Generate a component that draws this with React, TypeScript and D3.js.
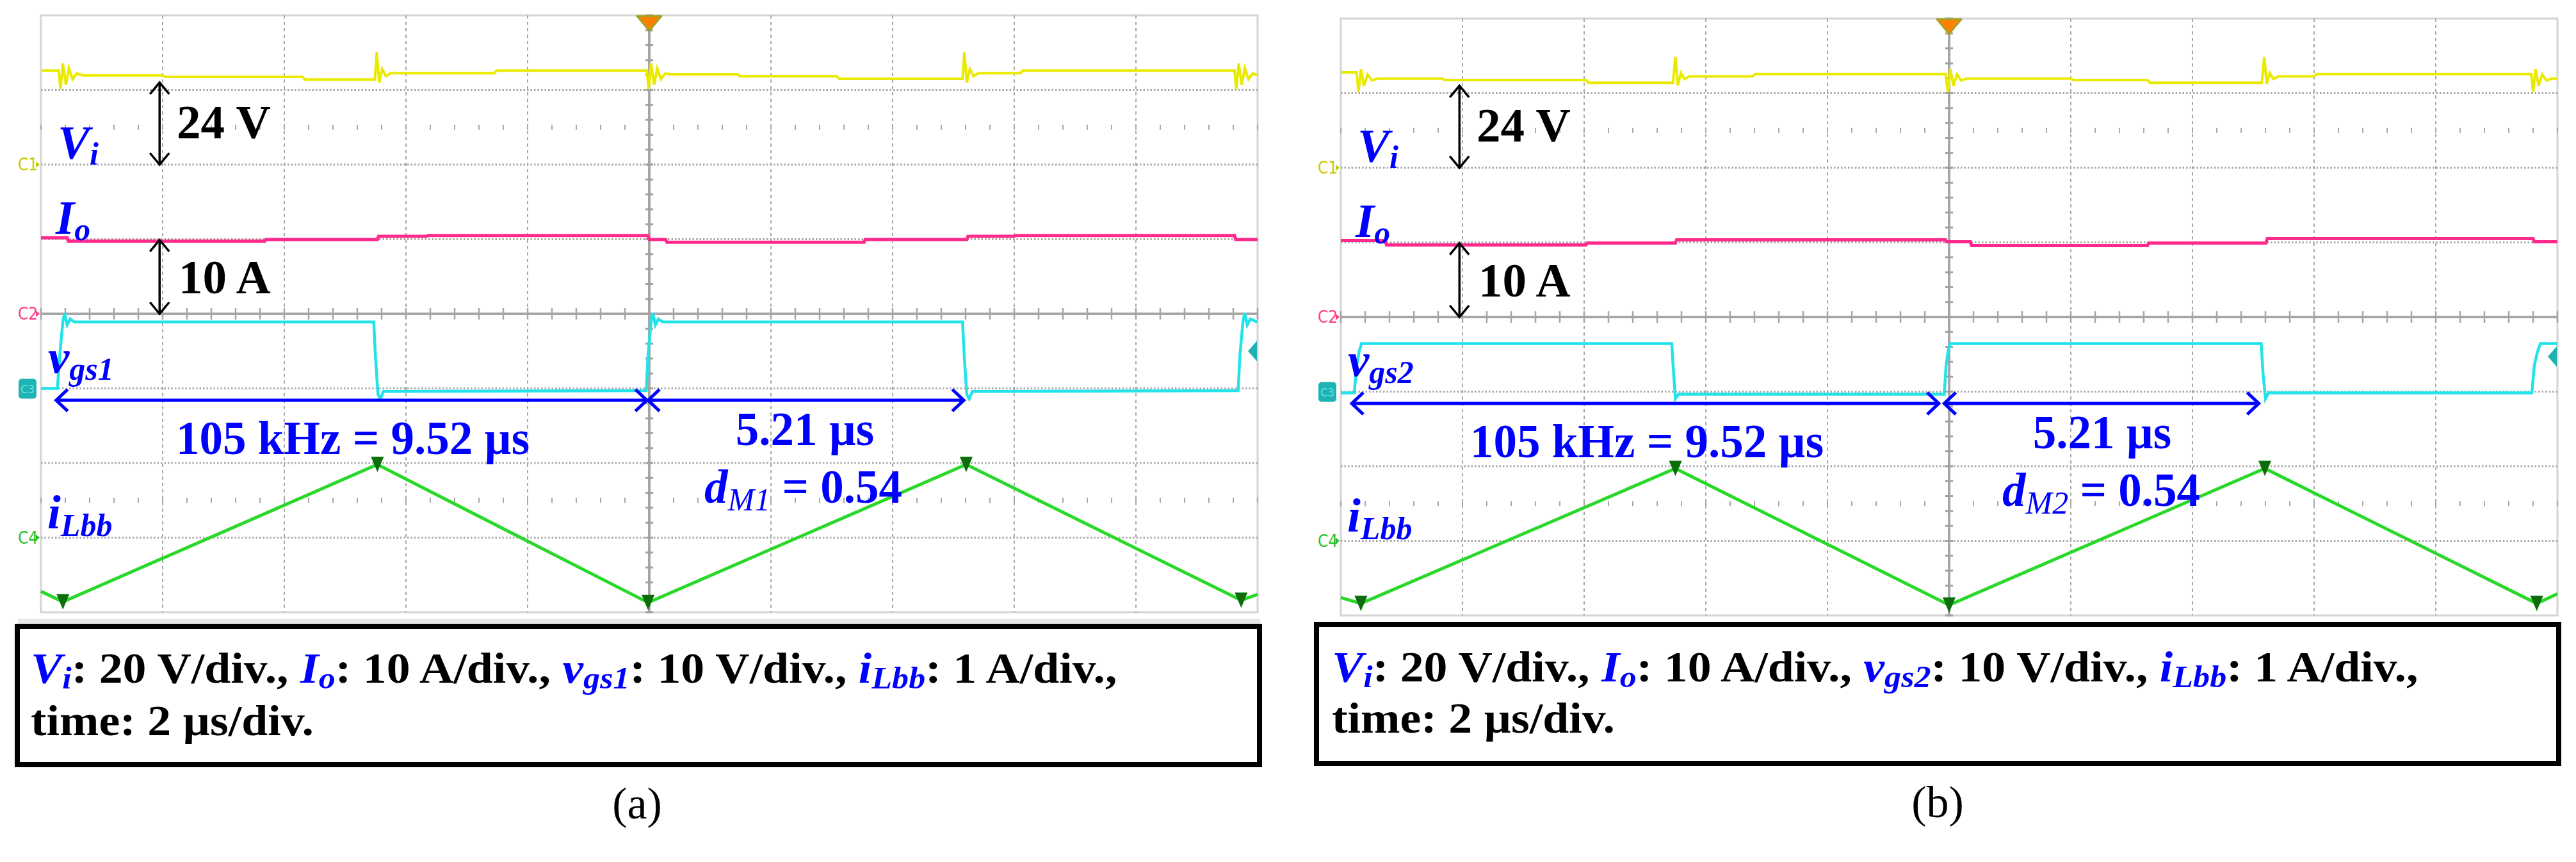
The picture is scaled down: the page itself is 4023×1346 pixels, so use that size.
import React from "react";
import * as d3 from "d3";

type Pt = [number, number];

const SERIF = "Liberation Serif, Tinos, serif";
const BLUE = "#0000ff";
const DIV_W = 190;
const DIV_H = 116.5;

// channel ground (divisions from centre) and units per division
const groundDiv = { vi: 2, io: 0, vgs: -1, il: -3 };
const perDiv = { vi: 20, io: 10, vgs: 10, il: 1 };

// ---- (a) traces: [time µs from trigger, value]
const viA: Pt[] = [
  [-10, 25.2], [-9.71, 25.2], [-9.68, 20.2], [-9.64, 27.1], [-9.59, 21.4], [-9.54, 25.8], [-9.48, 22.9],
  [-9.41, 24.4], [-9.3, 23.9], [-8.0, 23.9], [-7.96, 23.5], [-5.7, 23.5], [-5.66, 22.8], [-4.51, 22.8],
  [-4.48, 30.1], [-4.44, 22.0], [-4.39, 25.6], [-4.33, 23.7], [-4.25, 24.5], [-2.55, 24.5], [-2.51, 25.2],
  [-0.04, 25.2], [-0.01, 20.2], [0.03, 27.1], [0.08, 21.4], [0.13, 25.8], [0.19, 22.9], [0.26, 24.4],
  [0.35, 24.2], [1.45, 24.2], [1.49, 23.7], [3.08, 23.7], [3.12, 23.0], [5.15, 23.0], [5.18, 30.1],
  [5.22, 22.0], [5.27, 25.6], [5.33, 23.7], [5.41, 24.5], [6.1, 24.5], [6.14, 25.2], [9.62, 25.2],
  [9.65, 20.2], [9.69, 27.1], [9.74, 21.4], [9.79, 25.8], [9.85, 22.9], [9.92, 24.4], [10, 24.0],
];
const ioA: Pt[] = [
  [-10, 10.2], [-9.57, 10.2], [-9.55, 9.74], [-6.32, 9.74], [-6.3, 9.96], [-4.47, 9.96], [-4.45, 10.39],
  [-3.66, 10.39], [-3.64, 10.5], [-0.02, 10.5], [0, 9.96], [0.27, 9.96], [0.29, 9.6], [3.53, 9.6],
  [3.55, 9.96], [5.22, 9.96], [5.24, 10.39], [6.0, 10.39], [6.02, 10.5], [9.62, 10.5], [9.64, 9.96], [10, 9.96],
];
const vgs1: Pt[] = [
  [-10, 0], [-9.73, 0], [-9.69, 4.5], [-9.64, 9.0], [-9.61, 10.1], [-9.57, 8.5], [-9.52, 9.3], [-9.45, 8.9],
  [-4.53, 8.9], [-4.5, 4.0], [-4.46, -0.8], [-4.42, -1.4], [-4.37, -0.4], [-0.05, -0.3], [-0.02, 4.5],
  [0.03, 9.0], [0.06, 10.1], [0.1, 8.5], [0.15, 9.3], [0.22, 8.9], [5.15, 8.9], [5.18, 4.0], [5.22, -0.8],
  [5.26, -1.4], [5.31, -0.4], [9.68, -0.3], [9.71, 4.5], [9.76, 9.0], [9.79, 10.1], [9.83, 8.5],
  [9.88, 9.3], [10, 8.9],
];
const ilA: Pt[] = [[-10, -0.72], [-9.64, -0.86], [-4.47, 0.98], [-0.02, -0.87], [5.21, 0.98], [9.73, -0.84], [10, -0.76]];

// ---- (b) traces
const viB: Pt[] = [
  [-10, 25.6], [-9.74, 25.6], [-9.71, 20.3], [-9.67, 26.4], [-9.62, 22.0], [-9.56, 25.0], [-9.49, 23.4],
  [-9.4, 23.9], [-8.33, 23.9], [-8.29, 23.5], [-5.97, 23.5], [-5.93, 22.8], [-4.54, 22.8], [-4.5, 29.7],
  [-4.46, 22.1], [-4.41, 25.4], [-4.35, 23.8], [-4.27, 24.5], [-3.23, 24.5], [-3.19, 25.1], [-0.06, 25.1],
  [-0.02, 20.3], [0.02, 26.4], [0.07, 22.0], [0.13, 25.0], [0.2, 23.4], [0.29, 23.9], [2.0, 23.9],
  [2.04, 23.5], [3.26, 23.5], [3.3, 22.8], [5.14, 22.8], [5.18, 29.7], [5.22, 22.5], [5.27, 25.4],
  [5.33, 23.8], [5.41, 24.5], [6.0, 24.5], [6.04, 25.1], [9.57, 25.1], [9.6, 20.4], [9.64, 26.4],
  [9.69, 22.0], [9.75, 25.0], [9.82, 23.4], [9.9, 23.9], [10, 23.9],
];
const ioB: Pt[] = [
  [-10, 10.26], [-9.27, 10.26], [-9.25, 9.66], [-5.97, 9.66], [-5.95, 9.91], [-4.5, 9.91], [-4.48, 10.34],
  [-0.06, 10.34], [-0.04, 10.09], [0.35, 10.09], [0.37, 9.57], [3.26, 9.57], [3.28, 9.91], [5.21, 9.91],
  [5.23, 10.52], [9.6, 10.52], [9.62, 10.09], [10, 10.09],
];
const vgs2: Pt[] = [
  [-10, -0.17], [-9.78, -0.17], [-9.74, 3.5], [-9.7, 5.3], [-9.66, 6.44], [-4.56, 6.44], [-4.53, 2.5],
  [-4.5, -0.94], [-4.45, -0.34], [-0.08, -0.34], [-0.05, 3.5], [-0.02, 5.3], [0.02, 6.44], [5.13, 6.44],
  [5.16, 2.5], [5.2, -0.94], [5.25, -0.17], [9.58, -0.17], [9.62, 3.5], [9.67, 5.3], [9.72, 6.44], [10, 6.44],
];
const ilB: Pt[] = [[-10, -0.76], [-9.67, -0.84], [-4.5, 0.97], [0, -0.86], [5.19, 0.97], [9.66, -0.84], [10, -0.71]];

// annotations
const periodArrowA = [-9.75, -0.04];
const dutyArrowA = [-0.02, 5.17];
const periodArrowB = [-9.82, -0.17];
const dutyArrowB = [-0.08, 5.09];
const arrowT = -8.05; // time where the 24 V / 10 A arrows stand
const viArrow = [0, 22]; // V
const ioArrow = [0, 9.9]; // A

function VArrow({ x, y1, y2, w = 3.5, color = "#000" }: any) {
  const top = Math.min(y1, y2), bot = Math.max(y1, y2);
  return (
    <g stroke={color} strokeWidth={w} fill="none" strokeLinejoin="miter">
      <line x1={x} x2={x} y1={top} y2={bot} />
      <path d={`M${x - 15},${top + 18} L${x},${top} L${x + 15},${top + 18}`} />
      <path d={`M${x - 15},${bot - 18} L${x},${bot} L${x + 15},${bot - 18}`} />
    </g>
  );
}

function HArrow({ x1, x2, y }: any) {
  return (
    <g stroke={BLUE} strokeWidth={5} fill="none">
      <line x1={x1} x2={x2} y1={y} y2={y} />
      <path d={`M${x1 + 18},${y - 17} L${x1},${y} L${x1 + 18},${y + 17}`} />
      <path d={`M${x2 - 18},${y - 17} L${x2},${y} L${x2 - 18},${y + 17}`} />
    </g>
  );
}

function Scope(p: any) {
  const { x0, y0 } = p;
  const xs = d3.scaleLinear().domain([-10, 10]).range([x0, x0 + 10 * DIV_W]);
  const ys = d3.scaleLinear().domain([-4, 4]).range([y0 + 8 * DIV_H, y0]);
  const chY = (ch: keyof typeof groundDiv) => (v: number) => ys(groundDiv[ch] + v / perDiv[ch]);
  const line = (ch: keyof typeof groundDiv) =>
    d3.line<Pt>().x((d) => xs(d[0])).y((d) => chY(ch)(d[1]));
  const x1 = xs(10), yB = ys(-4);
  const cx = xs(0), cy = ys(0);

  const vLines = d3.range(-8, 10, 2).filter((t) => t !== 0);
  const hLines = d3.range(-3, 4).filter((d) => d !== 0);
  const minorT = d3.range(-10, 10.01, 0.4);
  const minorD = d3.range(-4, 4.01, 0.2);
  const ilVerts = p.il.slice(1, -1);

  const trig = chY("vgs")(p.trigLevel);

  return (
    <g>
      {/* frame */}
      <rect x={x0 - 36} y={yB + 10} width={x1 - x0 + 40} height={9} fill="#e8e8e8" />
      <rect x={x0} y={y0} width={x1 - x0} height={yB - y0} fill="none" stroke="#d4d4d4" strokeWidth={3} />
      {vLines.map((t) => (
        <line key={"v" + t} x1={xs(t)} x2={xs(t)} y1={y0} y2={yB} stroke="#a8a8a8" strokeWidth={2} strokeDasharray="5 5" />
      ))}
      {hLines.map((d) => (
        <line key={"h" + d} x1={x0} x2={x1} y1={ys(d)} y2={ys(d)} stroke="#a8a8a8" strokeWidth={3} strokeDasharray="2.5 3" />
      ))}
      {[2.5, -2.5].map((d) =>
        minorT.map((t) => (
          <line key={"m" + d + t} x1={xs(t)} x2={xs(t)} y1={ys(d) - 4} y2={ys(d) + 4} stroke="#a8a8a8" strokeWidth={2} />
        ))
      )}
      {/* centre cross */}
      <line x1={x0} x2={x1} y1={cy} y2={cy} stroke="#a6a6a6" strokeWidth={4} />
      <line x1={cx} x2={cx} y1={y0} y2={yB} stroke="#a6a6a6" strokeWidth={4} />
      {minorT.map((t) => (
        <line key={"ct" + t} x1={xs(t)} x2={xs(t)} y1={cy - 9} y2={cy + 9} stroke="#a6a6a6" strokeWidth={2.5} />
      ))}
      {minorD.map((d) => (
        <line key={"cd" + d} x1={cx - 6} x2={cx + 6} y1={ys(d)} y2={ys(d)} stroke="#a0a0a0" strokeWidth={3} />
      ))}

      {/* channel ground markers */}
      <g fontFamily="Liberation Sans Narrow, DejaVu Sans Condensed, sans-serif" fontSize={26}>
        <text x={x0 - 36} y={chY("vi")(0) + 9} fill="#c8c800">C1</text>
        <path d={`M${x0 - 8},${chY("vi")(0) - 5} L${x0 - 2},${chY("vi")(0)} L${x0 - 8},${chY("vi")(0) + 5}Z`} fill="#c8c800" />
        <text x={x0 - 36} y={chY("io")(0) + 9} fill="#ff3c8c">C2</text>
        <path d={`M${x0 - 8},${chY("io")(0) - 5} L${x0 - 2},${chY("io")(0)} L${x0 - 8},${chY("io")(0) + 5}Z`} fill="#ff3c8c" />
        <text x={x0 - 36} y={chY("il")(0) + 9} fill="#22c022">C4</text>
        <path d={`M${x0 - 8},${chY("il")(0) - 5} L${x0 - 2},${chY("il")(0)} L${x0 - 8},${chY("il")(0) + 5}Z`} fill="#22c022" />
        <rect x={x0 - 35} y={chY("vgs")(0) - 15} width={28} height={31} rx={5} fill="#1fb4b4" />
        <text x={x0 - 21} y={chY("vgs")(0) + 7} fontSize={18} textAnchor="middle" fill="#6ee0e0">C3</text>
      </g>

      {/* traces */}
      <path d={line("vi")(p.vi)!} fill="none" stroke="#eaea00" strokeWidth={4} />
      <path d={line("io")(p.io)!} fill="none" stroke="#ff2a8c" strokeWidth={5} />
      <path d={line("vgs")(p.vgs)!} fill="none" stroke="#22e2ea" strokeWidth={4.5} />
      <path d={line("il")(p.il)!} fill="none" stroke="#2ad82a" strokeWidth={5} />
      {ilVerts.map((d: Pt, i: number) => (
        <path key={"iv" + i}
          d={`M${xs(d[0]) - 10},${chY("il")(d[1]) - 12} L${xs(d[0]) + 10},${chY("il")(d[1]) - 12} L${xs(d[0])},${chY("il")(d[1]) + 12}Z`}
          fill="#0b6e0b" />
      ))}

      {/* trigger markers */}
      <path d={`M${cx - 19},${y0 + 1} L${cx + 19},${y0 + 1} L${cx},${y0 + 24}Z`} fill="#ff8000" stroke="#a4a21e" strokeWidth={3} strokeLinejoin="round" />
      <path d={`M${x1 - 1},${trig - 16} L${x1 - 1},${trig + 16} L${x1 - 15},${trig}Z`} fill="#1fb0b0" />

      {/* annotations */}
      <VArrow x={xs(arrowT)} y1={chY("vi")(viArrow[0])} y2={chY("vi")(viArrow[1])} />
      <VArrow x={xs(arrowT)} y1={chY("io")(ioArrow[0])} y2={chY("io")(ioArrow[1])} />
      <g fontFamily={SERIF} fontWeight="bold" fontSize={75}>
        <text x={x0 + 212} y={y0 + 192}>24 V</text>
        <text x={x0 + 215} y={y0 + 434}>10 A</text>
      </g>
      <g fontFamily={SERIF} fontWeight="bold" fontStyle="italic" fill={BLUE} fontSize={75}>
        <text x={x0 + 26} y={y0 + 224}>V<tspan fontSize={50} dy={9}>i</tspan></text>
        <text x={x0 + 23} y={y0 + 341}>I<tspan fontSize={50} dy={10}>o</tspan></text>
        <text x={x0 + 11} y={y0 + 558}>v<tspan fontSize={50} dy={11}>{p.gsSub}</tspan></text>
        <text x={x0 + 10} y={y0 + 801}>i<tspan fontSize={50} dy={12}>Lbb</tspan></text>
      </g>
      <HArrow x1={xs(p.period[0])} x2={xs(p.period[1])} y={ys(-1.159)} />
      <HArrow x1={xs(p.duty[0])} x2={xs(p.duty[1])} y={ys(-1.159)} />
      <g fontFamily={SERIF} fontWeight="bold" fill={BLUE} fontSize={73}>
        <text x={p.periodX} y={y0 + 685} textAnchor="middle">105 kHz = 9.52 µs</text>
        <text x={p.dutyX} y={y0 + 671} textAnchor="middle">5.21 µs</text>
        <text x={p.dX} y={y0 + 761}>
          <tspan fontStyle="italic">d</tspan>
          <tspan fontStyle="italic" fontWeight="normal" fontSize={50} dy={12}>{p.mSub}</tspan>
          <tspan dy={-12}>{" = 0.54"}</tspan>
        </text>
      </g>
    </g>
  );
}

function Legend({ bx, by, bw, bh, tx, ty1, ty2, gs, lx, ly, label }: any) {
  const sub = { fontSize: 48, fontStyle: "italic" as const, fill: BLUE };
  const sx = 1.085;
  return (
    <g>
      <rect x={bx} y={by} width={bw} height={bh} fill="#fff" stroke="#000" strokeWidth={8} />
      <g fontFamily={SERIF} fontWeight="bold" fontSize={68} style={{ whiteSpace: "pre" }}
        transform={`translate(${tx},0) scale(${sx},1) translate(${-tx},0)`}>
        <text x={tx} y={ty1}>
          <tspan fill={BLUE} fontStyle="italic">V</tspan>
          <tspan {...sub} dy={9}>i</tspan>
          <tspan dy={-9}>{": 20 V/div., "}</tspan>
          <tspan fill={BLUE} fontStyle="italic">I</tspan>
          <tspan {...sub} dy={9}>o</tspan>
          <tspan dy={-9}>{": 10 A/div., "}</tspan>
          <tspan fill={BLUE} fontStyle="italic">v</tspan>
          <tspan {...sub} dy={9}>{gs}</tspan>
          <tspan dy={-9}>{": 10 V/div., "}</tspan>
          <tspan fill={BLUE} fontStyle="italic">i</tspan>
          <tspan {...sub} dy={9}>Lbb</tspan>
          <tspan dy={-9}>{": 1 A/div.,"}</tspan>
        </text>
        <text x={tx} y={ty2}>time: 2 µs/div.</text>
      </g>
      <text x={lx} y={ly} fontFamily={SERIF} fontSize={70} textAnchor="middle">{label}</text>
    </g>
  );
}

export default function App() {
  return (
    <svg width={4023} height={1346} viewBox="0 0 4023 1346"
      style={{ position: "absolute", left: 0, top: 0, display: "block", background: "#fff" }}>
      <rect width={4023} height={1346} fill="#fff" />
      <Scope x0={64} y0={24} vi={viA} io={ioA} vgs={vgs1} il={ilA}
        period={periodArrowA} duty={dutyArrowA} trigLevel={5.0}
        gsSub="gs1" mSub="M1" periodX={551} dutyX={1257} dX={1100} />
      <Scope x0={2094} y0={29} vi={viB} io={ioB} vgs={vgs2} il={ilB}
        period={periodArrowB} duty={dutyArrowB} trigLevel={4.7}
        gsSub="gs2" mSub="M2" periodX={2572} dutyX={3283} dX={3127} />
      <Legend bx={27} by={978} bw={1940} bh={216} tx={48} ty1={1066} ty2={1148} gs="gs1" lx={995} ly={1278} label="(a)" />
      <Legend bx={2056} by={975} bw={1940} bh={217} tx={2080} ty1={1064} ty2={1144} gs="gs2" lx={3026} ly={1276} label="(b)" />
    </svg>
  );
}
